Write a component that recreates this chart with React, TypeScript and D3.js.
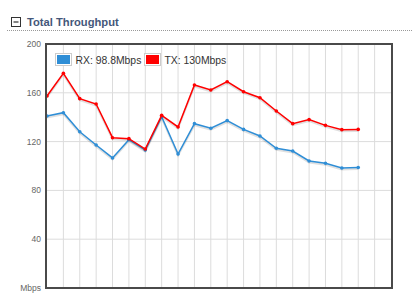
import React from "react";
import * as d3 from "d3";

const indices = d3.range(20);
const rxValues = [141, 143.7, 128.1, 117.2, 106.6, 121.6, 113.1, 140.4, 109.8, 134.7, 130.9, 137.2, 130, 124.6, 114.5, 112.3, 104.1, 102.2, 98.4, 98.8];
const txValues = [157.4, 176, 155.2, 150.8, 123.2, 122.4, 113.9, 141.5, 132, 166.4, 162.3, 169.1, 160.9, 156, 145.1, 134.7, 138, 133.3, 129.8, 130];
const yTicks = [40, 80, 120, 160, 200];
const xGridTicks = d3.range(1, 21);
const seriesNames = ["RX: 98.8Mbps", "TX: 130Mbps"];
const seriesColors = ["#2f8ed6", "#ff0000"];

const W = 413, H = 306;
const L = 47, R = 391, T = 44, B = 288;

export default function App() {
  const x = d3.scaleLinear().domain([0, 21]).range([L, R]);
  const y = d3.scaleLinear().domain([0, 200]).range([B, T]);
  const line = d3.line<number>().x((_, i) => x(indices[i])).y((d) => y(d));
  const series = [rxValues, txValues];
  const font = "'Liberation Sans', Arial, sans-serif";
  return (
    <svg width={W} height={H} style={{ position: "absolute", left: 0, top: 0, background: "#fff" }} fontFamily={font}>
      {/* header */}
      <rect x={11.5} y={17.5} width={9} height={9} fill="#fff" stroke="#333" strokeWidth={1} />
      <line x1={13.5} x2={18.5} y1={22} y2={22} stroke="#333" strokeWidth={1.2} />
      <text x={27} y={26} fontSize={11.2} fontWeight="bold" fill="#44577a">Total Throughput</text>
      <line x1={7} x2={413} y1={30.5} y2={30.5} stroke="#999" strokeWidth={1} strokeDasharray="1,1" />

      {/* grid */}
      {xGridTicks.map((t) => (
        <line key={"vx" + t} x1={x(t)} x2={x(t)} y1={T} y2={B} stroke="#dcdcdc" strokeWidth={1} />
      ))}
      {yTicks.filter((t) => t < 200).map((t) => (
        <line key={"hy" + t} x1={L} x2={R} y1={y(t)} y2={y(t)} stroke="#dcdcdc" strokeWidth={1} />
      ))}
      {yTicks.map((t) => (
        <text key={"yl" + t} x={41} y={y(t) + 3} fontSize={8.5} fill="#666" textAnchor="end">{t}</text>
      ))}
      <text x={41} y={B + 3} fontSize={8.5} fill="#666" textAnchor="end">Mbps</text>

      {/* series */}
      {series.map((s, k) => (
        <g key={"s" + k}>
          <path d={line(s) || ""} fill="none" stroke="rgba(0,0,0,0.12)" strokeWidth={2} transform="translate(0,1.5)" />
          <path d={line(s) || ""} fill="none" stroke={seriesColors[k]} strokeWidth={1.5} />
          {s.map((v, i) => (
            <circle key={i} cx={x(indices[i])} cy={y(v)} r={1.8} fill={seriesColors[k]} />
          ))}
        </g>
      ))}

      {/* frame */}
      <rect x={L - 1} y={T} width={R - L + 2} height={B - T} fill="none" stroke="#4a4a4a" strokeWidth={2} />

      {/* legend */}
      {seriesNames.map((n, k) => {
        const lx = k === 0 ? 55 : 144;
        return (
          <g key={"lg" + k}>
            <rect x={lx + 0.5} y={53.5} width={16} height={12} fill="#fff" stroke="#ccc" strokeWidth={1} />
            <rect x={lx + 2} y={55} width={13} height={9} fill={seriesColors[k]} />
            <text x={lx + 20.5} y={63.5} fontSize={10.4} fill="#333">{n}</text>
          </g>
        );
      })}
    </svg>
  );
}
